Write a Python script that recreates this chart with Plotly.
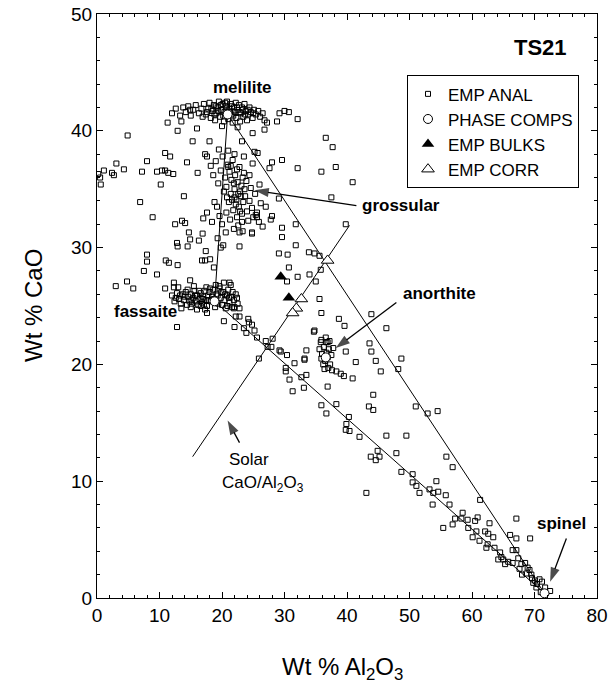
import plotly.graph_objects as go

FONT = "Liberation Sans, Arial, Helvetica, sans-serif"

# ---------------- data (Wt % Al2O3, Wt % CaO) ----------------
anal_melilite = [
    (11.3, 40.7), (12.0, 41.5), (12.6, 41.9), (12.9, 40.0), (13.3, 41.3), (13.8, 42.0), (14.2, 41.6),
    (14.6, 42.1), (15.0, 41.3), (15.4, 41.8), (15.8, 42.2), (16.0, 40.2), (16.3, 41.5), (16.7, 41.9),
    (17.1, 42.3), (17.4, 41.4), (17.8, 41.9), (18.0, 42.4), (18.2, 41.1), (18.5, 41.7), (18.7, 42.2),
    (18.9, 40.9), (19.1, 41.5), (19.3, 42.0), (19.5, 42.5), (19.7, 41.2), (19.9, 41.8), (20.1, 42.3),
    (20.3, 40.8), (20.4, 41.6), (20.6, 42.1), (20.8, 42.5), (21.0, 41.0), (21.2, 41.9), (21.4, 42.3),
    (21.5, 41.4), (21.7, 40.7), (21.9, 42.0), (22.0, 41.6), (22.2, 42.4), (22.3, 41.1), (22.5, 41.8),
    (22.7, 42.2), (22.9, 40.8), (23.0, 41.5), (23.2, 42.0), (23.4, 41.2), (23.6, 42.3), (23.8, 41.7),
    (24.0, 40.9), (24.2, 41.4), (24.4, 42.0), (24.6, 41.6), (24.9, 41.1), (25.1, 41.8), (25.4, 41.4),
    (25.8, 41.7), (26.1, 41.2), (26.5, 41.5), (26.8, 40.9), (27.2, 40.7), (26.8, 40.1), (24.9, 39.8),
    (23.2, 39.1), (29.2, 41.5), (30.0, 41.7), (30.7, 41.6), (32.1, 41.0), (28.8, 40.8), (18.0, 39.1),
    (15.3, 39.1), (13.5, 40.8), (20.0, 40.4), (22.5, 40.3),
    (18.3, 41.9), (18.8, 41.4), (19.4, 41.7), (19.8, 42.2), (20.2, 41.3), (20.7, 41.8), (21.3, 41.6),
    (21.8, 41.3), (22.4, 42.0), (22.8, 41.6), (23.3, 41.8), (23.7, 41.4), (19.0, 42.1), (20.5, 42.4),
    (21.6, 42.1), (17.6, 41.6), (16.9, 41.2), (14.9, 41.8), (24.1, 41.8), (25.0, 41.5),
]

anal_left = [
    (0.5, 36.0), (1.1, 36.6), (0.6, 35.4), (0.2, 36.3), (2.4, 36.4), (2.7, 36.2), (3.1, 37.2),
    (4.3, 36.7), (4.9, 39.6), (7.2, 36.5), (8.0, 37.4), (9.6, 36.5), (10.4, 36.6), (10.9, 36.6),
    (11.4, 36.4), (12.2, 36.3), (10.2, 35.4), (6.9, 33.9), (8.9, 32.6), (10.9, 38.1), (11.7, 37.8),
    (14.4, 37.3), (13.9, 34.4), (12.5, 32.0), (13.6, 32.3), (14.1, 32.1), (12.8, 30.4), (12.9, 30.1),
    (8.0, 29.4), (8.0, 28.8), (7.5, 28.0), (9.6, 27.7), (3.0, 26.7), (4.8, 27.1), (5.8, 26.5),
    (11.0, 28.9), (11.5, 28.7), (12.9, 28.5), (14.9, 27.2), (12.3, 27.0), (12.3, 26.6), (10.9, 26.5),
    (14.7, 31.3), (14.9, 30.7), (14.5, 30.1), (16.3, 30.6), (16.9, 31.2), (17.4, 29.7), (18.1, 29.0),
    (16.8, 28.9), (19.8, 30.0), (18.7, 28.3), (17.3, 28.9), (17.3, 38.0), (17.6, 37.8), (16.1, 36.4),
]

anal_grossular = [
    (18.2, 37.0), (18.6, 36.2), (19.0, 37.4), (19.4, 35.5), (19.8, 36.6), (20.1, 37.8), (20.3, 34.8),
    (20.5, 36.0), (20.7, 35.2), (20.9, 37.1), (21.1, 33.9), (21.2, 36.5), (21.4, 34.6), (21.5, 35.8),
    (21.7, 37.5), (21.8, 33.2), (22.0, 35.0), (22.1, 36.2), (22.3, 34.1), (22.4, 32.6), (22.5, 35.6),
    (22.7, 33.5), (22.8, 36.9), (22.9, 34.8), (23.1, 35.3), (23.2, 32.9), (23.4, 33.9), (23.5, 36.4),
    (23.7, 34.4), (23.9, 35.7), (24.0, 33.1), (24.2, 32.3), (24.4, 34.0), (24.6, 35.1), (24.8, 33.4),
    (25.0, 32.6), (25.3, 34.6), (25.6, 33.0), (25.9, 32.2), (26.2, 33.8), (19.2, 33.5), (19.6, 32.7),
    (18.8, 33.9), (18.4, 32.2), (17.6, 33.0), (17.0, 32.5), (20.0, 32.0), (20.6, 31.3), (21.3, 32.4),
    (21.9, 31.6), (22.6, 31.9), (23.3, 31.4), (19.3, 30.8), (20.2, 30.2), (22.8, 30.1), (22.8, 31.3),
    (24.8, 31.3), (23.2, 32.2), (25.6, 32.6), (26.5, 31.8), (25.4, 32.8), (24.8, 31.2), (26.0, 35.4),
    (25.2, 38.2), (25.7, 38.1), (24.9, 37.2), (22.0, 38.0), (21.0, 38.3), (23.5, 37.8), (19.5, 38.4),
    (20.7, 33.0), (22.0, 34.3), (23.6, 35.0), (21.0, 36.9), (24.4, 36.2),
    (21.6, 34.1), (22.2, 33.7), (22.9, 33.1), (23.0, 34.4), (21.9, 35.5), (22.6, 34.6), (23.3, 36.0),
    (20.8, 34.3), (22.4, 36.7), (21.4, 37.0),
]

anal_upper_mid = [
    (28.0, 37.3), (27.6, 36.8), (29.6, 37.5), (32.1, 36.8), (35.9, 36.5), (38.2, 36.9), (36.6, 39.4),
    (37.7, 38.6), (40.9, 35.6), (37.5, 34.3), (29.1, 34.2), (27.0, 33.5), (28.0, 32.7), (27.8, 32.4),
    (29.6, 31.7), (29.6, 30.9), (31.8, 32.0), (39.8, 32.0), (31.8, 30.2), (29.1, 29.5), (30.5, 29.4),
    (33.9, 29.6), (34.8, 29.5), (35.6, 29.3), (30.7, 28.3), (32.1, 27.5), (34.0, 27.7), (35.0, 27.1),
    (35.8, 28.1), (30.4, 27.1), (35.6, 25.6), (35.9, 24.4), (38.7, 23.9), (39.6, 23.3), (34.7, 22.8),
]

anal_fassaite = [
    (12.0, 25.9), (12.4, 25.4), (12.8, 26.1), (13.1, 25.6), (13.4, 25.2), (13.7, 26.0), (13.9, 25.5),
    (14.2, 26.2), (14.4, 25.1), (14.6, 25.8), (14.8, 25.4), (15.0, 26.0), (15.2, 25.2), (15.4, 25.7),
    (15.6, 26.3), (15.8, 25.4), (16.0, 25.9), (16.2, 25.1), (16.4, 25.6), (16.6, 26.1), (16.8, 25.3),
    (17.0, 25.8), (17.2, 26.3), (17.4, 25.5), (17.6, 25.0), (17.8, 25.9), (18.0, 26.2), (18.2, 25.4),
    (18.4, 25.8), (18.6, 26.4), (18.9, 24.9), (19.1, 26.0), (19.4, 25.2), (19.6, 26.5), (19.8, 25.7),
    (20.0, 25.1), (20.2, 26.2), (20.4, 25.5), (20.6, 24.8), (20.8, 25.9), (21.0, 26.4), (21.2, 25.3),
    (21.4, 25.8), (21.6, 24.9), (21.9, 25.5), (22.2, 26.0), (22.5, 25.2), (22.8, 24.8), (13.0, 26.6),
    (15.5, 26.7), (17.5, 26.6), (19.0, 26.8), (20.3, 27.0), (21.4, 26.8), (19.6, 26.7), (21.2, 27.0),
    (12.8, 23.2), (16.0, 24.7), (17.3, 24.7), (17.6, 24.4), (20.3, 23.7), (13.5, 24.8), (15.0, 24.9),
    (14.0, 25.8), (14.5, 26.4), (15.1, 25.5), (15.7, 25.9), (16.3, 26.3), (16.9, 25.6), (17.1, 25.1),
    (17.9, 25.5), (18.1, 26.5), (19.9, 26.2), (20.5, 26.0), (21.1, 25.7), (21.7, 26.2), (22.0, 24.9),
    (13.3, 25.9), (12.6, 25.7), (16.6, 25.0), (18.7, 25.6), (19.3, 25.9), (20.9, 25.0), (22.4, 25.7),
]

anal_fas_sp_trend = [
    (21.9, 24.8), (22.0, 23.2), (23.5, 23.1), (24.3, 23.6), (24.8, 23.4), (22.2, 24.1), (22.8, 24.1),
    (23.9, 22.7), (25.2, 22.9), (25.6, 22.3), (27.0, 22.0), (28.1, 22.2), (27.3, 21.5), (27.9, 21.5),
    (25.9, 20.5), (29.2, 21.2), (30.4, 20.8), (30.2, 19.7), (30.2, 19.4), (31.6, 20.1), (30.8, 18.7),
    (31.3, 17.7), (32.7, 18.9), (33.5, 19.1), (33.1, 18.0), (33.2, 20.5), (33.5, 21.2), (34.8, 22.9),
    (35.9, 22.1), (36.7, 21.9), (36.9, 18.1), (35.9, 16.5), (38.3, 16.6), (36.7, 15.8), (29.4, 21.1),
    (33.2, 20.4), (24.2, 23.9),
]

anal_anorthite = [
    (35.8, 21.9), (36.9, 21.9), (35.6, 21.3), (36.0, 20.9), (36.3, 21.5), (36.5, 20.3), (36.7, 21.0),
    (36.9, 20.6), (37.1, 21.3), (37.3, 20.0), (36.2, 20.0), (35.9, 20.5), (37.0, 19.7), (37.5, 20.8),
    (36.4, 19.6), (37.8, 21.4), (36.6, 22.3), (37.2, 22.0), (37.6, 19.5), (38.3, 19.4), (39.0, 19.2),
    (39.5, 19.0), (40.9, 18.8), (39.8, 21.1), (41.4, 20.2),
]

anal_middle = [
    (43.9, 24.3), (46.3, 23.1), (43.6, 21.8), (43.9, 21.1), (44.6, 20.3), (45.4, 19.4), (48.7, 20.5),
    (48.2, 19.6), (44.2, 17.4), (43.5, 16.4), (44.2, 16.1), (46.3, 13.9), (49.5, 13.9), (51.0, 16.4),
    (47.9, 12.4), (44.9, 12.6), (45.2, 12.1), (43.8, 12.1), (44.6, 11.8), (40.3, 15.5), (39.9, 14.9),
    (39.8, 14.4), (40.4, 14.3), (42.0, 13.8), (43.1, 9.0), (52.9, 15.8), (54.5, 16.0), (55.9, 12.1),
    (56.9, 11.2),
]

anal_spinel_trend = [
    (48.7, 10.8), (50.5, 10.6), (50.5, 9.9), (51.1, 9.6), (51.6, 9.0), (54.3, 10.0), (53.2, 9.3),
    (53.8, 9.0), (54.6, 9.1), (55.8, 8.8), (53.7, 8.0), (56.4, 8.0), (61.3, 8.4), (58.5, 7.3),
    (58.3, 6.8), (57.3, 6.8), (56.9, 6.3), (59.3, 6.7), (60.9, 6.9), (60.5, 6.6), (55.4, 6.0),
    (59.4, 6.0), (62.8, 6.4), (60.7, 5.7), (62.1, 5.7), (62.6, 5.5), (60.1, 5.2), (61.2, 4.9),
    (63.4, 5.2), (62.5, 4.6), (62.3, 4.3), (63.6, 4.3), (67.1, 6.8), (66.1, 5.4), (67.1, 5.1),
    (69.3, 5.1), (66.5, 4.1), (67.1, 4.1), (64.5, 3.9), (64.7, 3.5), (65.0, 3.3), (64.2, 3.3),
    (65.3, 2.9), (65.8, 3.1), (66.5, 3.0), (67.4, 3.4), (67.9, 2.9), (67.6, 2.5), (68.5, 3.0),
    (68.7, 2.1), (69.5, 2.0), (69.6, 1.7), (70.1, 1.5), (70.8, 1.6), (71.2, 1.4), (70.4, 1.2),
    (69.8, 1.3), (71.7, 0.9), (72.5, 0.6), (68.9, 2.6), (69.2, 2.4), (70.3, 0.9), (71.0, 0.5),
    (68.0, 2.0),
]

# phase compositions: melilite, fassaite, anorthite, spinel
phase_names = ["melilite", "fassaite", "anorthite", "spinel"]
phase_x = [20.9, 18.8, 36.6, 71.6]
phase_y = [41.4, 25.4, 20.6, 0.4]

bulks_x = [29.4, 30.7]
bulks_y = [27.5, 25.7]

corr_x = [36.9, 32.7, 31.9, 31.3]
corr_y = [28.9, 25.6, 24.8, 24.4]

# solar CaO/Al2O3 line end points
solar_x = [15.3, 40.4]
solar_y = [12.1, 31.9]

# label arrows: (tail, tip)
arrow_tails = [(41.5, 33.6), (47.9, 25.3), (22.8, 13.3), (75.1, 5.1)]
arrow_tips = [(25.2, 34.9), (38.2, 21.4), (20.9, 15.2), (72.5, 1.4)]

x_ticks = [0, 10, 20, 30, 40, 50, 60, 70, 80]
y_ticks = [0, 10, 20, 30, 40, 50]

# ---------------- figure ----------------
all_anal = (anal_melilite + anal_left + anal_grossular + anal_upper_mid + anal_fassaite
            + anal_fas_sp_trend + anal_anorthite + anal_middle + anal_spinel_trend)
ax_ = [p[0] for p in all_anal]
ay_ = [p[1] for p in all_anal]

fig = go.Figure()

mel, fas, an, sp = 0, 1, 2, 3
for a, b in [(mel, fas), (mel, sp), (fas, sp)]:
    fig.add_trace(go.Scatter(x=[phase_x[a], phase_x[b]], y=[phase_y[a], phase_y[b]],
                             mode="lines", line=dict(color="black", width=1),
                             showlegend=False, hoverinfo="skip"))
fig.add_trace(go.Scatter(x=solar_x, y=solar_y, mode="lines",
                         line=dict(color="black", width=1), showlegend=False, hoverinfo="skip"))

fig.add_trace(go.Scatter(x=ax_, y=ay_, mode="markers", name="EMP ANAL", legendgroup="a",
                         marker=dict(symbol="square-open", size=5, color="black",
                                     line=dict(width=1, color="black"))))
fig.add_trace(go.Scatter(x=phase_x, y=phase_y, mode="markers", name="PHASE COMPS", legendgroup="b",
                         marker=dict(symbol="circle", size=9, color="white",
                                     line=dict(width=1, color="black"))))
fig.add_trace(go.Scatter(x=bulks_x, y=bulks_y, mode="markers", name="EMP BULKS", legendgroup="c",
                         marker=dict(symbol="triangle-up", size=11, color="black",
                                     line=dict(width=0))))
fig.add_trace(go.Scatter(x=corr_x, y=corr_y, mode="markers", name="EMP CORR", legendgroup="d",
                         marker=dict(symbol="triangle-up", size=11, color="white",
                                     line=dict(width=1, color="black"))))

# arrows as line traces with an arrow-head marker at the tip
for (sx, sy), (tx, ty) in zip(arrow_tails, arrow_tips):
    fig.add_trace(go.Scatter(x=[sx, tx], y=[sy, ty], mode="lines+markers",
                             line=dict(color="black", width=1.3),
                             marker=dict(symbol="arrow", size=[0, 15], angleref="previous",
                                         color="black", line=dict(width=0)),
                             showlegend=False, hoverinfo="skip"))

annotations = []
labels = [
    ("<b>melilite</b>", 23.3, 43.7),
    ("<b>fassaite</b>", 7.7, 24.5),
    ("<b>grossular</b>", 48.7, 33.6),
    ("<b>anorthite</b>", 54.8, 26.1),
    ("<b>spinel</b>", 74.3, 6.4),
    ("Solar", 24.3, 11.9),
    ("CaO/Al<sub>2</sub>O<sub>3</sub>", 26.6, 9.8),
]
for t, x, y in labels:
    annotations.append(dict(x=x, y=y, xref="x", yref="y", text=t, showarrow=False,
                            font=dict(family=FONT, size=17, color="black")))

annotations.append(dict(x=0.886, y=0.943, xref="paper", yref="paper", text="<b>TS21</b>",
                        xanchor="center", yanchor="middle",
                        showarrow=False, font=dict(family=FONT, size=22, color="black")))
annotations.append(dict(x=0.49, y=-0.12, xref="paper", yref="paper",
                        xanchor="center", yanchor="middle",
                        text="Wt % Al<sub>2</sub>O<sub>3</sub>", showarrow=False,
                        font=dict(family=FONT, size=24, color="black")))
annotations.append(dict(x=-0.128, y=0.5, xref="paper", yref="paper", text="Wt % CaO",
                        xanchor="center", yanchor="middle",
                        textangle=-90, showarrow=False,
                        font=dict(family=FONT, size=24, color="black")))

axis_common = dict(showgrid=False, zeroline=False, showline=True, linecolor="black", linewidth=1,
                   mirror="allticks", ticks="inside", ticklen=6, tickcolor="black",
                   tickfont=dict(family=FONT, size=19, color="black"), automargin=False,
                   minor=dict(ticks="inside", ticklen=3, tickcolor="black", showgrid=False))

fig.update_layout(
    width=615, height=686, autosize=False,
    margin=dict(l=97, r=18, t=14, b=88, autoexpand=False),
    paper_bgcolor="white", plot_bgcolor="white",
    xaxis=dict(range=[0, 80], tickvals=x_ticks, **axis_common),
    yaxis=dict(range=[0, 50], tickvals=y_ticks, **axis_common),
    annotations=annotations,
    legend=dict(x=0.62, y=0.895, xanchor="left", yanchor="top", bgcolor="white",
                bordercolor="black", borderwidth=1, tracegroupgap=0,
                font=dict(family=FONT, size=17, color="black")),
    showlegend=True,
)
fig.update_xaxes(minor=dict(dtick=2))
fig.update_yaxes(minor=dict(dtick=2))

fig.write_html("out.html", config={"displayModeBar": False},
               post_script="document.body.style.margin='0px';document.body.style.padding='0px';")
